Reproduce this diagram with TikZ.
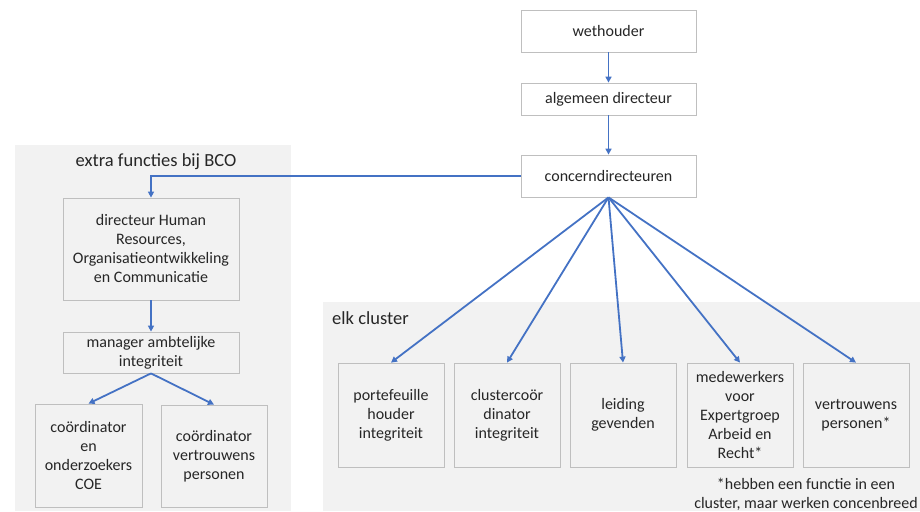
\documentclass[tikz,border=0pt]{standalone}
\usepackage{fontspec}
\setmainfont{Carlito}
\usetikzlibrary{arrows.meta}
\definecolor{panelgray}{HTML}{F2F2F2}
\definecolor{boxline}{HTML}{BFBFBF}
\definecolor{linkblue}{HTML}{4472C4}
\definecolor{txt}{HTML}{262626}
\begin{document}
\begin{tikzpicture}[x=1pt,y=-1pt,
  font=\fontsize{16}{19}\selectfont, text=txt,
  topbox/.style={draw=boxline, fill=white, line width=0.8pt, align=center, inner sep=0pt},
  subbox/.style={draw=boxline, fill=panelgray, line width=0.8pt, align=center, inner sep=0pt},
  link/.style={draw=linkblue, line width=1.8pt, -{Triangle[length=6pt,width=6pt]}},
  paneltitle/.style={font=\fontsize{18.5}{22}\selectfont, inner sep=0pt}]
  % page frame
  \useasboundingbox (0,0) rectangle (920,511);
  % background panels
  \fill[panelgray] (15,145) rectangle (291,511);
  \fill[panelgray] (323,302) rectangle (920,511);
  \node[paneltitle] (t1) at (156,162) {extra functies bij BCO};
  \node[paneltitle, anchor=west] (t2) at (332,318) {elk cluster};

  % central chain
  \node[topbox, minimum width=175pt, minimum height=42pt] (weth) at (608.5,31) {wethouder};
  \node[topbox, minimum width=175pt, minimum height=32pt] (alg) at (608.5,99) {algemeen directeur};
  \node[topbox, minimum width=175pt, minimum height=42pt] (cd) at (608.5,176) {concerndirecteuren};

  % left panel
  \node[subbox, minimum width=176pt, minimum height=102pt] (hr) at (151,249)
    {directeur Human\\Resources,\\Organisatieontwikkeling\\en Communicatie};
  \node[subbox, minimum width=176pt, minimum height=41pt] (mai) at (151,352.5)
    {manager ambtelijke\\integriteit};
  \node[subbox, minimum width=107pt, minimum height=103pt] (coe) at (88.5,455.5)
    {coördinator\\en\\onderzoekers\\COE};
  \node[subbox, minimum width=106pt, minimum height=102pt] (cvp) at (214,456)
    {coördinator\\vertrouwens\\personen};

  % cluster row
  \node[subbox, minimum width=106pt, minimum height=104pt] (pf) at (391,415)
    {portefeuille\\houder\\integriteit};
  \node[subbox, minimum width=106pt, minimum height=104pt] (cc) at (507,415)
    {clustercoör\\dinator\\integriteit};
  \node[subbox, minimum width=106pt, minimum height=104pt] (lg) at (623,415)
    {leiding\\gevenden};
  \node[subbox, minimum width=106pt, minimum height=104pt] (mw) at (740,415)
    {medewerkers\\voor\\Expertgroep\\Arbeid en\\Recht*};
  \node[subbox, minimum width=106pt, minimum height=104pt] (vp) at (856,415)
    {vertrouwens\\personen*};

  \node[align=center, inner sep=0pt] (note) at (806,494)
    {*hebben een functie in een\\cluster, maar werken concenbreed};

  % connectors
  \draw[link] (weth.south) -- (alg.north);
  \draw[link] (alg.south) -- (cd.north);
  \draw[link] (cd.west) -| (hr.north);
  \draw[link] (hr.south) -- (mai.north);
  \draw[link] (mai.south) -- (coe.north);
  \draw[link] (mai.south) -- (cvp.north);
  \foreach \t in {pf,cc,lg,mw,vp}
    \draw[link] (cd.south) -- (\t.north);
\end{tikzpicture}
\end{document}
